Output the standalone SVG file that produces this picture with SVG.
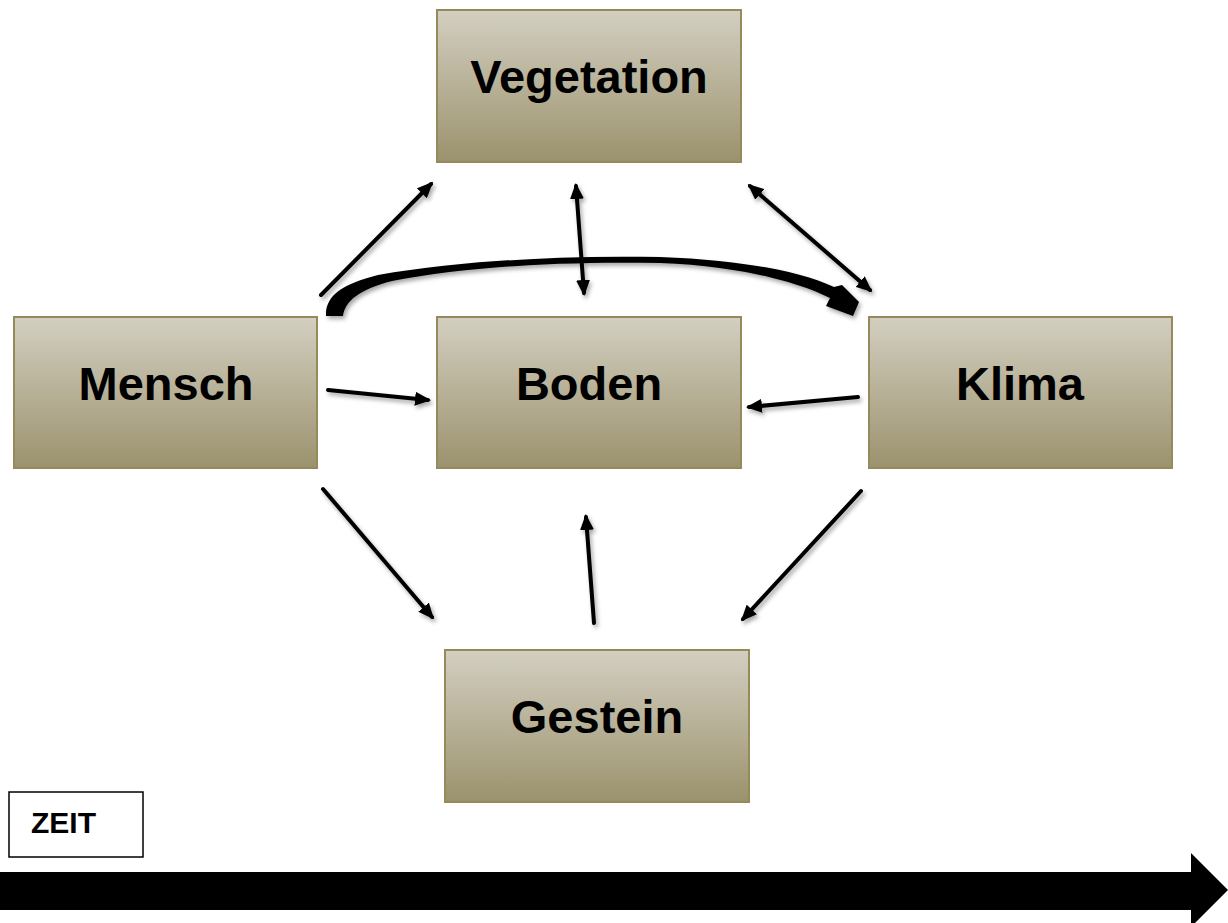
<svg xmlns="http://www.w3.org/2000/svg" width="1228" height="923" viewBox="0 0 1228 923">
<style>
.box{fill:url(#g);stroke:#948a5a;stroke-width:2}
.lbl{font-family:"Liberation Sans",Arial,sans-serif;font-weight:bold;font-size:47px;fill:#000;text-anchor:middle}
.ln{stroke:#000;stroke-width:4;fill:none;stroke-linecap:round}
</style>
<defs>
<linearGradient id="g" x1="0" y1="0" x2="0" y2="1">
<stop offset="0" stop-color="#d3cfc1"/>
<stop offset="1" stop-color="#9b926d"/>
</linearGradient>
<filter id="sh" x="-20%" y="-20%" width="140%" height="140%">
<feDropShadow dx="2" dy="3" stdDeviation="2" flood-color="#000" flood-opacity="0.35"/>
</filter>
<marker id="ah" viewBox="0 0 16 14" refX="13" refY="7" markerWidth="16" markerHeight="14" markerUnits="userSpaceOnUse" orient="auto-start-reverse">
<path d="M0,0 L16,7 L0,14 z" fill="#000"/>
</marker>
</defs>

<g id="vegetation"><rect class="box" x="437" y="10" width="304" height="152"/><text class="lbl" x="589" y="93">Vegetation</text></g>
<g id="mensch"><rect class="box" x="14" y="317" width="303" height="151"/><text class="lbl" x="166" y="400">Mensch</text></g>
<g id="boden"><rect class="box" x="437" y="317" width="304" height="151"/><text class="lbl" x="589" y="400">Boden</text></g>
<g id="klima"><rect class="box" x="869" y="317" width="303" height="151"/><text class="lbl" x="1020" y="400">Klima</text></g>
<g id="gestein"><rect class="box" x="445" y="650" width="304" height="152"/><text class="lbl" x="597" y="733">Gestein</text></g>

<g id="connectors" filter="url(#sh)">
<line class="ln" x1="321" y1="295" x2="431" y2="184" marker-end="url(#ah)"/>
<line class="ln" x1="576" y1="186" x2="584" y2="293" marker-start="url(#ah)" marker-end="url(#ah)"/>
<line class="ln" x1="750" y1="186" x2="870" y2="290" marker-start="url(#ah)" marker-end="url(#ah)"/>
<line class="ln" x1="328" y1="390" x2="428" y2="400" marker-end="url(#ah)"/>
<line class="ln" x1="858" y1="397" x2="749" y2="407" marker-end="url(#ah)"/>
<line class="ln" x1="323" y1="489" x2="432" y2="617" marker-end="url(#ah)"/>
<line class="ln" x1="594" y1="623" x2="586" y2="517" marker-end="url(#ah)"/>
<line class="ln" x1="861" y1="491" x2="743" y2="619" marker-end="url(#ah)"/>
<path d="M326,316 C325,296 342,284 378,275 C460,261 560,255 660,257 C740,260 800,271 834,287 L842,285 L859,302 L853,316 L826,306 L830,298 C798,282 740,266 660,263 C560,261 462,267 392,281 C360,289 345,301 343,316 Z" fill="#000"/>
</g>

<g id="zeit">
<rect x="9" y="792" width="134" height="65" fill="#fff" stroke="#000" stroke-width="1.5"/>
<text x="31" y="833" font-family="Liberation Sans,Arial,sans-serif" font-weight="bold" font-size="30">ZEIT</text>
<path d="M0,872 L1191,872 L1191,853 L1228,890 L1191,927 L1191,910 L0,910 Z" fill="#000"/>
</g>
</svg>
